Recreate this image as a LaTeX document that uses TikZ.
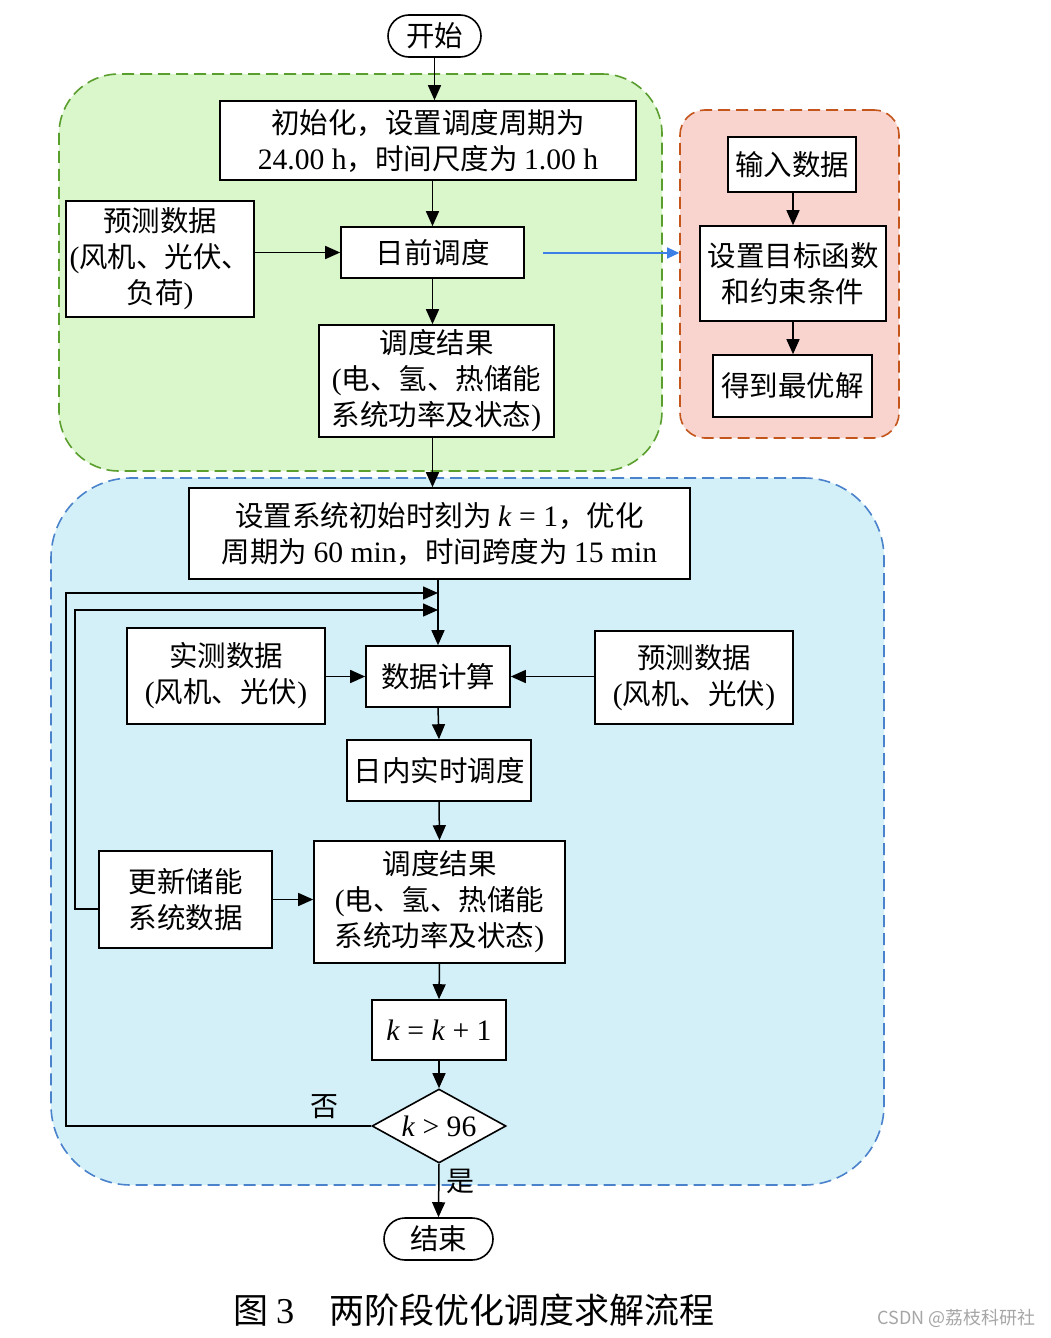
\documentclass[tikz,border=0pt]{standalone}
\usepackage{fontspec}
\setmainfont{Noto Sans CJK SC}
\newfontfamily\lat[Scale=1.04]{Liberation Serif}
\usetikzlibrary{arrows.meta,shapes.geometric}
\definecolor{gfill}{HTML}{DAF6CB}
\definecolor{gline}{HTML}{5A9E2E}
\definecolor{rfill}{HTML}{F9D4CF}
\definecolor{rline}{HTML}{C4561C}
\definecolor{bfill}{HTML}{D3F0F8}
\definecolor{bline}{HTML}{4A82CC}
\definecolor{barrow}{HTML}{3C7FE6}
\tikzset{
  zone/.style={draw, dash pattern=on 12pt off 6pt, line width=1.6pt, inner sep=0pt},
  box/.style={draw, line width=1.6pt, fill=white, align=center, inner sep=0pt,
    font=\fontsize{28.5}{36}\selectfont},
  term/.style={box, rounded corners=21pt},
  decide/.style={draw, diamond, line width=1.6pt, fill=white, inner sep=0pt, aspect=1.8,
    font=\fontsize{28.5}{36}\selectfont},
  arr/.style={-{Triangle[length=15pt,width=13pt]}, line width=1.5pt},
  lbl/.style={font=\fontsize{28}{32}\selectfont, inner sep=0pt}
}
\begin{document}
\begin{tikzpicture}[x=1pt,y=-1pt]
\useasboundingbox[fill=white] (0,0) rectangle (1051,1338);
% zones
\node[zone, fill=gfill, draw=gline, minimum width=603pt, minimum height=397pt, rounded corners=60pt] (green) at (360.5,272.5) {};
\node[zone, fill=rfill, draw=rline, minimum width=219pt, minimum height=328pt, rounded corners=25pt] (red) at (789.5,274) {};
\node[zone, fill=bfill, draw=bline, minimum width=833pt, minimum height=707pt, rounded corners=80pt] (blue) at (467.5,831.5) {};
% nodes
\node[term, minimum width=93pt, minimum height=42pt] (start) at (434.5,36) {开始};
\node[box, minimum width=416pt, minimum height=79pt] (init) at (428,140.5) {初始化，设置调度周期为\\{\lat 24.00 h}，时间尺度为 {\lat 1.00 h}};
\node[box, minimum width=188pt, minimum height=116pt] (pred1) at (160,259) {预测数据\\{\lat(}风机、光伏、\\负荷{\lat)}};
\node[box, minimum width=183pt, minimum height=51pt] (ahead) at (432.5,252.5) {日前调度};
\node[box, minimum width=235pt, minimum height=112pt] (res1) at (436.5,381) {调度结果\\{\lat(}电、氢、热储能\\系统功率及状态{\lat)}};
\node[box, minimum width=128pt, minimum height=55pt] (input) at (792,164.5) {输入数据};
\node[box, minimum width=186pt, minimum height=95pt] (obj) at (793,273.5) {设置目标函数\\和约束条件};
\node[box, minimum width=159pt, minimum height=62pt] (opt) at (792.5,386) {得到最优解};
\node[box, minimum width=501pt, minimum height=91pt] (setk) at (439.5,533.5) {设置系统初始时刻为 {\lat\textit{k} = 1}，优化\\周期为 {\lat 60 min}，时间跨度为 {\lat 15 min}};
\node[box, minimum width=198pt, minimum height=96pt] (meas) at (226,676) {实测数据\\{\lat(}风机、光伏{\lat)}};
\node[box, minimum width=144pt, minimum height=61pt] (calc) at (438,676.5) {数据计算};
\node[box, minimum width=198pt, minimum height=93pt] (pred2) at (694,677.5) {预测数据\\{\lat(}风机、光伏{\lat)}};
\node[box, minimum width=184pt, minimum height=61pt] (intra) at (439,770.5) {日内实时调度};
\node[box, minimum width=251pt, minimum height=122pt] (res2) at (439.5,902) {调度结果\\{\lat(}电、氢、热储能\\系统功率及状态{\lat)}};
\node[box, minimum width=173pt, minimum height=97pt] (upd) at (185.5,899.5) {更新储能\\系统数据};
\node[box, minimum width=134pt, minimum height=60pt] (kinc) at (439,1030) {{\lat\textit{k} = \textit{k} + 1}};
\node[decide, minimum width=134pt, minimum height=74pt] (dia) at (439,1126) {{\lat\textit{k} > 96}};
\node[term, minimum width=109pt, minimum height=42pt] (stop) at (438.5,1239) {结束};
% connectors top
\draw[arr] (start.south) -- (start.south |- init.north);
\draw[arr] (ahead.north |- init.south) -- (ahead.north);
\draw[arr] (pred1.east |- ahead.west) -- (ahead.west);
\draw[arr] (ahead.south) -- (ahead.south |- res1.north);
\draw[arr] (ahead.south |- res1.south) -- (ahead.south |- setk.north);
\coordinate (ba) at (543,253);
\draw[-{Triangle[length=12pt,width=11pt]}, line width=1.2pt, barrow] (ba) -- (ba -| red.west);
\draw[arr] (input.south -| obj.north) -- (obj.north);
\draw[arr] (obj.south) -- (obj.south |- opt.north);
% connectors bottom
\draw[arr] (calc.north |- setk.south) -- (calc.north);
\coordinate (l1) at (66,593);
\coordinate (l2) at (75,610);
\draw[arr] (dia.west) -- (dia.west -| l1) -- (l1) -- (l1 -| calc.north);
\coordinate (uw) at (99,909);
\draw[arr] (uw) -- (uw -| l2) -- (l2) -- (l2 -| calc.north);
\draw[arr] (meas.east |- calc.west) -- (calc.west);
\draw[arr] (pred2.west |- calc.east) -- (calc.east);
\draw[arr] (calc.south) -- (intra.north);
\draw[arr] (intra.south) -- (res2.north);
\draw[arr] (upd.east) -- (res2.west |- upd.east);
\draw[arr] (res2.south) -- (kinc.north);
\draw[arr] (kinc.south) -- (dia.north);
\draw[arr] (dia.south) -- (stop.north);
\node[lbl] (no) at (324,1107) {否};
\node[lbl] (yes) at (460,1181) {是};
% caption
\node[anchor=west, inner sep=0pt, font=\fontsize{35}{40}\selectfont] (cap) at (233,1310) {图 {\lat 3}\quad 两阶段优化调度求解流程};
\node[anchor=east, inner sep=0pt, text=black!35, font=\fontsize{18}{22}\selectfont] (wm) at (1036,1318) {CSDN @荔枝科研社};
\end{tikzpicture}
\end{document}
